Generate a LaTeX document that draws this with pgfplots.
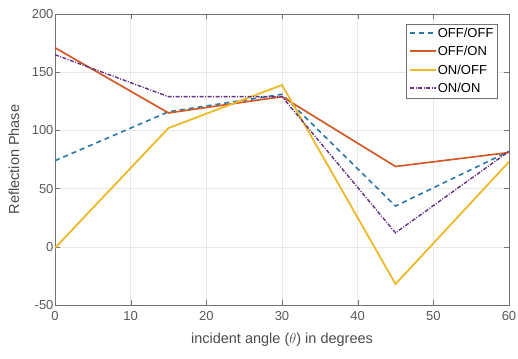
\documentclass[border=0pt]{standalone}
\usepackage{pgfplots}
\pgfplotsset{compat=1.18}
\usepackage{fontspec}
\setmainfont{Liberation Sans}
\definecolor{mblue}{RGB}{40,120,170}
\definecolor{morange}{RGB}{210,90,40}
\definecolor{myellow}{RGB}{237,185,40}
\definecolor{mpurple}{RGB}{100,50,130}
\begin{document}
\begin{tikzpicture}
\begin{axis}[
  name=ax,
  scale only axis,
  width=454pt, height=291pt,
  xmin=0, xmax=60, ymin=-50, ymax=200,
  xtick={0,10,...,60}, ytick={-50,0,...,200},
  grid=major,
  major grid style={draw=gray!18},
  axis line style={draw=black!55},
  tick style={draw=black!55},
  tick align=inside,
  major tick length=5pt,
  ticklabel style={font=\fontsize{13}{15}\selectfont, text=black!65},
  /pgf/number format/assume math mode=true,
  xticklabel style={yshift=-3pt},
  yticklabel style={xshift=2pt},
  xlabel={incident angle ($\theta$) in degrees},
  ylabel={Reflection Phase},
  xlabel style={font=\fontsize{14.5}{16}\selectfont, text=black!70, at={(axis description cs:0.5,-0.12)}, anchor=center},
  ylabel style={font=\fontsize{14.5}{16}\selectfont, text=black!70, at={(axis description cs:-0.0903,0.5)}, rotate=0, anchor=center},
  legend style={font=\fontsize{13}{15}\selectfont, draw=black!55, at={(0.975,0.967)}, anchor=north east, row sep=5.5pt, inner sep=3pt, nodes={inner sep=1pt}},
  legend cell align=left,
  /tikz/every even column/.append style={column sep=3pt},
  legend image code/.code={\draw[#1, line width=2.1pt] (0cm,0.5pt) -- (0.9cm,0.5pt);},
]
\addplot[mblue, line width=1.6pt, dash pattern=on 5pt off 4pt] coordinates {(0,74) (15,116) (30,131) (45,35) (60,82)};
\addlegendentry{OFF/OFF}
\addplot[morange, line width=1.7pt] coordinates {(0,171) (15,115) (30,129) (45,69) (60,81)};
\addlegendentry{OFF/ON}
\addplot[myellow, line width=1.8pt] coordinates {(0,-1) (15,102) (30,139) (45,-32) (60,73)};
\addlegendentry{ON/OFF}
\addplot[mpurple, line width=1.4pt, dash pattern=on 4pt off 1.5pt on 1pt off 1.5pt] coordinates {(0,165) (15,129) (30,129) (45,12) (60,82)};
\addlegendentry{ON/ON}
\end{axis}
\pgfresetboundingbox
\useasboundingbox (ax.south west) ++(-55pt,-53pt) rectangle ([xshift=9pt,yshift=14pt]ax.north east);
\end{tikzpicture}
\end{document}
